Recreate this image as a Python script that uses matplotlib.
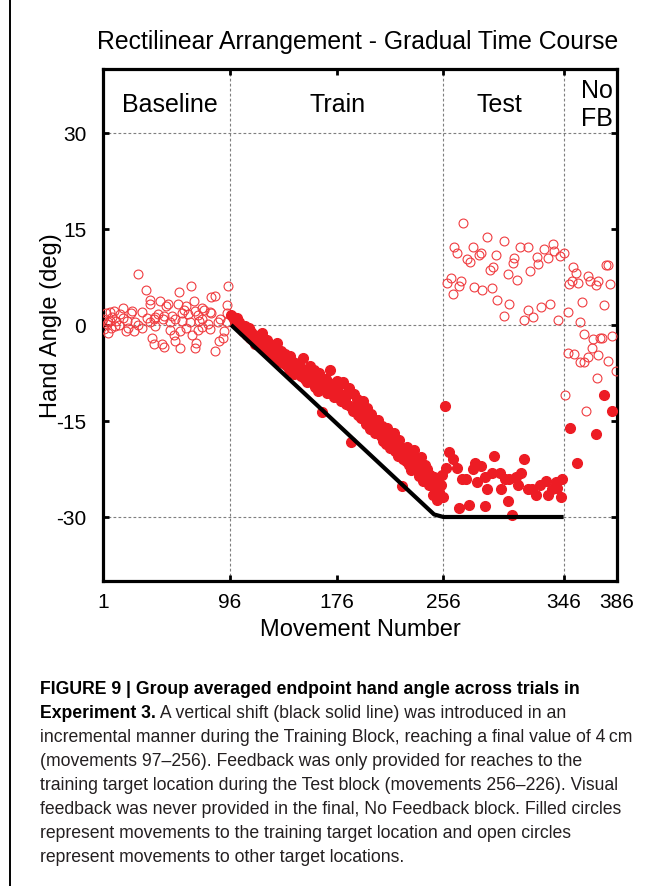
import numpy as np
import matplotlib
matplotlib.use("Agg")
import matplotlib.pyplot as plt
from matplotlib.lines import Line2D

# ---------------- data ----------------
baseline_x = [1, 2, 3, 4, 5, 5, 6, 6, 7, 8, 9, 10, 11, 13, 14, 16, 16, 18, 19, 20, 22, 23, 24, 25,
              27, 27, 30, 30, 33, 34, 36, 36, 36, 38, 39, 39, 40, 40, 42, 44, 45, 46, 47, 47, 48,
              50, 51, 51, 53, 54, 55, 55, 57, 58, 59, 59, 60, 60, 62, 63, 63, 65, 66, 67, 68, 69,
              70, 70, 71, 72, 72, 73, 75, 75, 75, 77, 80, 81, 81, 82, 82, 85, 85, 87, 88, 89, 91,
              92, 94, 94, 94, 95]
baseline_y = [1.0, -0.6, 1.8, 0.2, 0.4, -1.2, 2.1, 0.7, -0.5, 1.2, 2.2, -0.2, 0.6, 0.0, 1.7, 2.7,
              1.1, -0.9, 0.6, -0.4, 1.8, 2.2, -0.9, 0.4, 8.0, 0.0, -0.4, 2.1, 5.4, 1.1, 3.9, 3.3,
              0.4, -2.1, 0.9, -2.9, 1.3, -0.2, 1.7, 3.7, -2.9, 0.9, -3.5, 1.4, 3.0, 3.3, -0.8, 0.5,
              1.4, -1.5, -2.5, 0.9, 3.3, 5.2, -3.6, -0.9, 0.6, 1.9, 2.3, 3.0, -0.4, 1.7, 0.5, 6.1,
              -1.5, 3.7, -3.6, 2.2, -2.8, -0.8, 1.6, 0.6, 2.7, -0.3, 1.0, 2.3, 0.1, 2.1, -0.7, 4.4,
              1.8, 4.6, -4.0, 0.4, -2.5, 0.9, -2.0, -0.9, 3.1, 0.5, 1.9, 6.1]

train_x = list(range(97, 257))
train_y = [1.6, 1.2, 0.9, 0.4, 1.1, 0.0, 0.5, -0.3, -0.1, -0.9,
           -0.2, -1.0, -1.6, -0.4, -2.0, -1.1, -2.4, -1.5, -2.9, -1.8,
           -1.7, -3.0, -2.2, -1.3, -3.6, -2.5, -4.1, -2.3, -3.3, -4.4,
           -3.2, -4.2, -5.0, -3.4, -2.8, -4.7, -5.6, -4.1, -5.1, -6.0,
           -4.6, -6.2, -5.3, -6.8, -4.9, -7.2, -5.8, -7.6, -6.3, -6.9,
           -7.3, -5.9, -8.0, -6.8, -5.2, -8.5, -7.4, -8.9, -7.6, -6.4,
           -7.9, -9.1, -7.0, -9.7, -8.4, -10.3, -7.5, -9.2, -13.6, -10.0,
           -9.9, -8.4, -10.6, -9.1, -7.0, -10.2, -9.5, -11.3, -10.0, -8.8,
           -10.4, -9.3, -11.8, -11.0, -8.9, -11.5, -12.4, -10.6, -9.9, -12.7,
           -18.3, -13.4, -10.8, -12.9, -11.6, -14.1, -12.5, -14.6, -13.2, -11.9,
           -13.6, -15.5, -12.9, -14.6, -16.2, -13.9, -15.1, -14.8, -16.8, -15.6,
           -14.9, -16.4, -17.3, -15.8, -18.1, -16.9, -18.6, -16.1, -17.7, -19.2,
           -17.6, -19.0, -16.8, -19.7, -18.3, -20.4, -18.0, -19.3, -25.1, -20.9,
           -19.8, -21.3, -19.0, -21.8, -20.4, -22.6, -21.0, -19.5, -22.2, -20.8,
           -21.9, -23.6, -20.6, -23.1, -24.4, -21.8, -23.9, -22.5, -25.0, -23.4,
           -24.8, -26.6, -23.7, -25.9, -27.3, -24.4, -26.1, -25.0, -23.5, -26.8]

test_filled_x = [257, 258, 260, 263, 266, 268, 270, 273, 275, 278, 280, 281, 284, 287, 287, 289,
                 292, 294, 298, 299, 302, 304, 305, 307, 310, 312, 314, 316, 319, 322, 325, 328,
                 333, 334, 337, 340, 341, 344, 345]
test_filled_y = [-12.6, -22.3, -19.9, -21.0, -22.4, -28.6, -24.0, -24.0, -28.1, -22.5, -21.5,
                 -24.5, -22.1, -23.7, -28.3, -25.7, -23.1, -20.4, -23.2, -25.7, -24.0, -27.5,
                 -24.0, -29.7, -23.7, -25.0, -23.1, -21.0, -25.6, -25.6, -26.5, -25.0, -24.3,
                 -26.5, -25.7, -24.5, -25.4, -26.8, -24.0]

test_open_x = [259, 262, 263, 264, 266, 268, 269, 271, 274, 276, 278, 279, 283, 284, 285, 289,
               291, 292, 293, 295, 296, 301, 301, 304, 305, 308, 309, 311, 313, 316, 319, 319,
               321, 323, 326, 327, 329, 331, 334, 336, 338, 339, 342, 343, 346]
test_open_y = [6.6, 7.4, 4.9, 12.2, 11.3, 6.1, 6.9, 16.0, 10.3, 9.9, 12.2, 6.0, 11.0, 11.3, 5.5,
               13.8, 8.6, 5.8, 9.1, 11.0, 3.9, 13.2, 1.4, 8.0, 3.3, 9.7, 10.4, 7.1, 12.2, 0.8,
               12.2, 2.4, 8.5, 1.3, 10.7, 9.6, 2.8, 11.8, 10.4, 3.3, 12.6, 11.6, 0.8, 10.8, 11.3]

nofb_open_x = [347, 349, 349, 350, 352, 353, 354, 355, 357, 358, 358, 360, 361, 361, 363, 364,
               364, 366, 367, 368, 370, 371, 372, 372, 373, 375, 376, 378, 379, 379, 381, 382, 385]
nofb_open_y = [-11.0, 2.0, -4.4, 6.4, 6.9, 9.0, -4.6, 8.2, 6.6, 0.5, -5.8, 3.6, -1.4, -5.8, -13.4,
               -5.0, 7.7, 6.9, -3.6, -2.2, 6.3, -8.3, 6.9, -4.7, -2.0, -2.0, 3.1, 9.4, 9.4, -5.7,
               6.4, -1.7, -7.2]

nofb_filled_x = [351, 356, 370, 376, 382]
nofb_filled_y = [-16.1, -21.5, -17.1, -11.0, -13.4]

shift_x = [97, 249, 256, 346]
shift_y = [0, -29.6, -30, -30]

x_ticks = [1, 96, 176, 256, 346, 386]
y_ticks = [-30, -15, 0, 15, 30]
block_bounds = [96, 256, 346]
grid_levels = [30, 0, -30]
block_names = ["Baseline", "Train", "Test", "No\nFB"]
block_centers = [51, 177, 298, 371]

title = "Rectilinear Arrangement - Gradual Time Course"
caption_lines = [
    "incremental manner during the Training Block, reaching a final value of 4\u2009cm",
    "(movements 97\u2013256). Feedback was only provided for reaches to the",
    "training target location during the Test block (movements 256\u2013226). Visual",
    "feedback was never provided in the final, No Feedback block. Filled circles",
    "represent movements to the training target location and open circles",
    "represent movements to other target locations.",
]

plt.rcParams["font.family"] = ["Liberation Sans", "DejaVu Sans"]
plt.rcParams["axes.unicode_minus"] = False

W, H = 654, 887
fig = plt.figure(figsize=(W / 100, H / 100), dpi=100)
ax = fig.add_axes([103 / W, 1 - 582 / H, (617 - 103) / W, (582 - 70) / H])

red = "#ed1c24"
ax.set_xlim(1, 386)
ax.set_ylim(-40, 40)

for g in grid_levels:
    ax.axhline(g, color="#7f7f7f", lw=0.8, ls=(0, (2.5, 2)), zorder=1)
for b in block_bounds:
    ax.axvline(b, color="#7f7f7f", lw=0.8, ls=(0, (2.5, 2)), zorder=1)

open_kw = dict(ls="none", marker="o", ms=6.4, mfc="none", mec="#f03c40", mew=0.8, zorder=3)
fill_kw = dict(ls="none", marker="o", ms=7.0, color=red, mec=red, zorder=3)
ax.plot(baseline_x, baseline_y, **open_kw)
ax.plot(test_open_x, test_open_y, **open_kw)
ax.plot(nofb_open_x, nofb_open_y, **open_kw)
ax.plot(train_x, train_y, **fill_kw)
ax.plot(test_filled_x, test_filled_y, **fill_kw)
ax.plot(nofb_filled_x, nofb_filled_y, **fill_kw)
ax.plot(shift_x, shift_y, color="black", lw=3, zorder=4, solid_capstyle="butt")

for name, cx in zip(block_names, block_centers):
    ax.text(cx, 34.5, name, ha="center", va="center", fontsize=18, linespacing=1.2)

ax.set_xticks(x_ticks)
ax.set_yticks(y_ticks)
ax.tick_params(direction="in", length=4, width=2, top=True, right=True,
               labelsize=15)
ax.tick_params(axis="y", pad=12)
ax.tick_params(axis="x", pad=8)
for s in ax.spines.values():
    s.set_linewidth(2.3)
ax.set_xlabel("Movement Number", fontsize=17, labelpad=5)
ax.set_ylabel("Hand Angle (deg)", fontsize=17, labelpad=-4)

fig.text(358 / W, 1 - 42 / H, title, ha="center", va="center", fontsize=17.8)

# left border of the page
fig.add_artist(Line2D([10 / W, 10 / W], [0, 1], color="black", lw=1.4))

# caption
cap_fs = 12.7
x0 = 40 / W
y_first = 690
step = 24
fig.text(x0, 1 - y_first / H,
         "FIGURE 9 | Group averaged endpoint hand angle across trials in",
         fontsize=cap_fs, fontweight="bold", va="center", ha="left")
bold2 = fig.text(x0, 1 - (y_first + step) / H, "Experiment 3.", fontsize=cap_fs,
                 fontweight="bold", va="center", ha="left")
r = fig.canvas.get_renderer()
bb = bold2.get_window_extent(renderer=r)
fig.text(bb.x1 / W, 1 - (y_first + step) / H,
         " A vertical shift (black solid line) was introduced in an",
         fontsize=cap_fs, va="center", ha="left", color="#231f20")
for i, line in enumerate(caption_lines):
    fig.text(x0, 1 - (y_first + step * (i + 2)) / H, line, fontsize=cap_fs,
             va="center", ha="left", color="#231f20")

fig.savefig("out.png", dpi=100)
